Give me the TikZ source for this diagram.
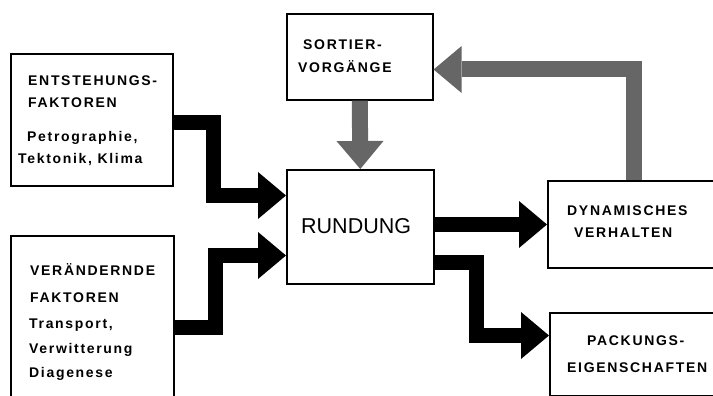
\documentclass[tikz,border=0pt]{standalone}
\usepackage{fontspec}
\setmainfont{Liberation Sans}
\newfontfamily\smallfont[LetterSpace=12]{Liberation Sans Bold}
\newfontfamily\bigfont{Liberation Sans}
\usetikzlibrary{arrows.meta,calc}
\definecolor{greyarrow}{gray}{0.4}
\tikzset{
  box/.style={draw, line width=1.6pt, rectangle, inner sep=0pt, anchor=north west},
  captext/.style={inner sep=0pt, anchor=base west, font=\smallfont\fontsize{14}{16}\selectfont},
  lowtext/.style={captext},
  bigtext/.style={inner sep=0pt, anchor=base west, font=\bigfont\fontsize{21.5}{26}\selectfont},
  fat/.style={line width=15pt, line join=miter, -{Triangle[width=47pt,length=28pt,line width=0pt]}},
  fatgrey/.style={fat, line width=16pt, draw=greyarrow},
}
\begin{document}
\begin{tikzpicture}[x=1pt,y=-1pt]
\useasboundingbox (0,0) rectangle (713,396);
% boxes
\node[box, minimum width=162pt, minimum height=132pt] (b1) at (10,53) {};
\node[box, minimum width=163pt, minimum height=175pt] (b2) at (10,235) {};
\node[box, minimum width=146pt, minimum height=86pt] (sort) at (286,13) {};
\node[box, minimum width=147pt, minimum height=114pt] (rund) at (286,169) {};
\node[box, minimum width=180pt, minimum height=87pt] (dyn) at (547,180) {};
\node[box, minimum width=180pt, minimum height=83pt] (pack) at (549,312) {};
% texts
\node[captext] (t1) at (28,86) {ENTSTEHUNGS-};
\node[captext] (t2) at (28,108) {FAKTOREN};
\node[lowtext] (t3) at (27,141) {Petrographie,};
\node[lowtext] (t4) at (18,164) {Tektonik, Klima};
\node[captext] (t5) at (30,275) {VERÄNDERNDE};
\node[captext] (t6) at (30,302) {FAKTOREN};
\node[lowtext] (t7) at (29,328) {Transport,};
\node[lowtext] (t8) at (29,353) {Verwitterung};
\node[lowtext] (t9) at (29,377) {Diagenese};
\node[captext] (t10) at (303,50) {SORTIER-};
\node[captext] (t11) at (298,73) {VORGÄNGE};
\node[bigtext] (t12) at (301,233) {RUNDUNG};
\node[captext] (t13) at (567,215) {DYNAMISCHES};
\node[captext] (t14) at (574,237) {VERHALTEN};
\node[captext] (t15) at (587,345) {PACKUNGS-};
\node[captext] (t16) at (567,372) {EIGENSCHAFTEN};
% connectors
\draw[fat] (b1.east |- 0,122.5) -| (213.5,195.5) -- (rund.west |- 0,195.5);
\draw[fat] (b2.east |- 0,327.5) -| (215,255.5) -- (rund.west |- 0,255.5);
\draw[fatgrey] (sort.south) -- (rund.north);
\draw[fat] (rund.east |- 0,224.5) -- (dyn.west |- 0,224.5);
\draw[fatgrey] (dyn.north -| 633.5,0) |- (sort.east |- 0,69.5);
\draw[fat] (rund.east |- 0,262.5) -| (476,335.5) -- (pack.west |- 0,335.5);
\end{tikzpicture}
\end{document}
